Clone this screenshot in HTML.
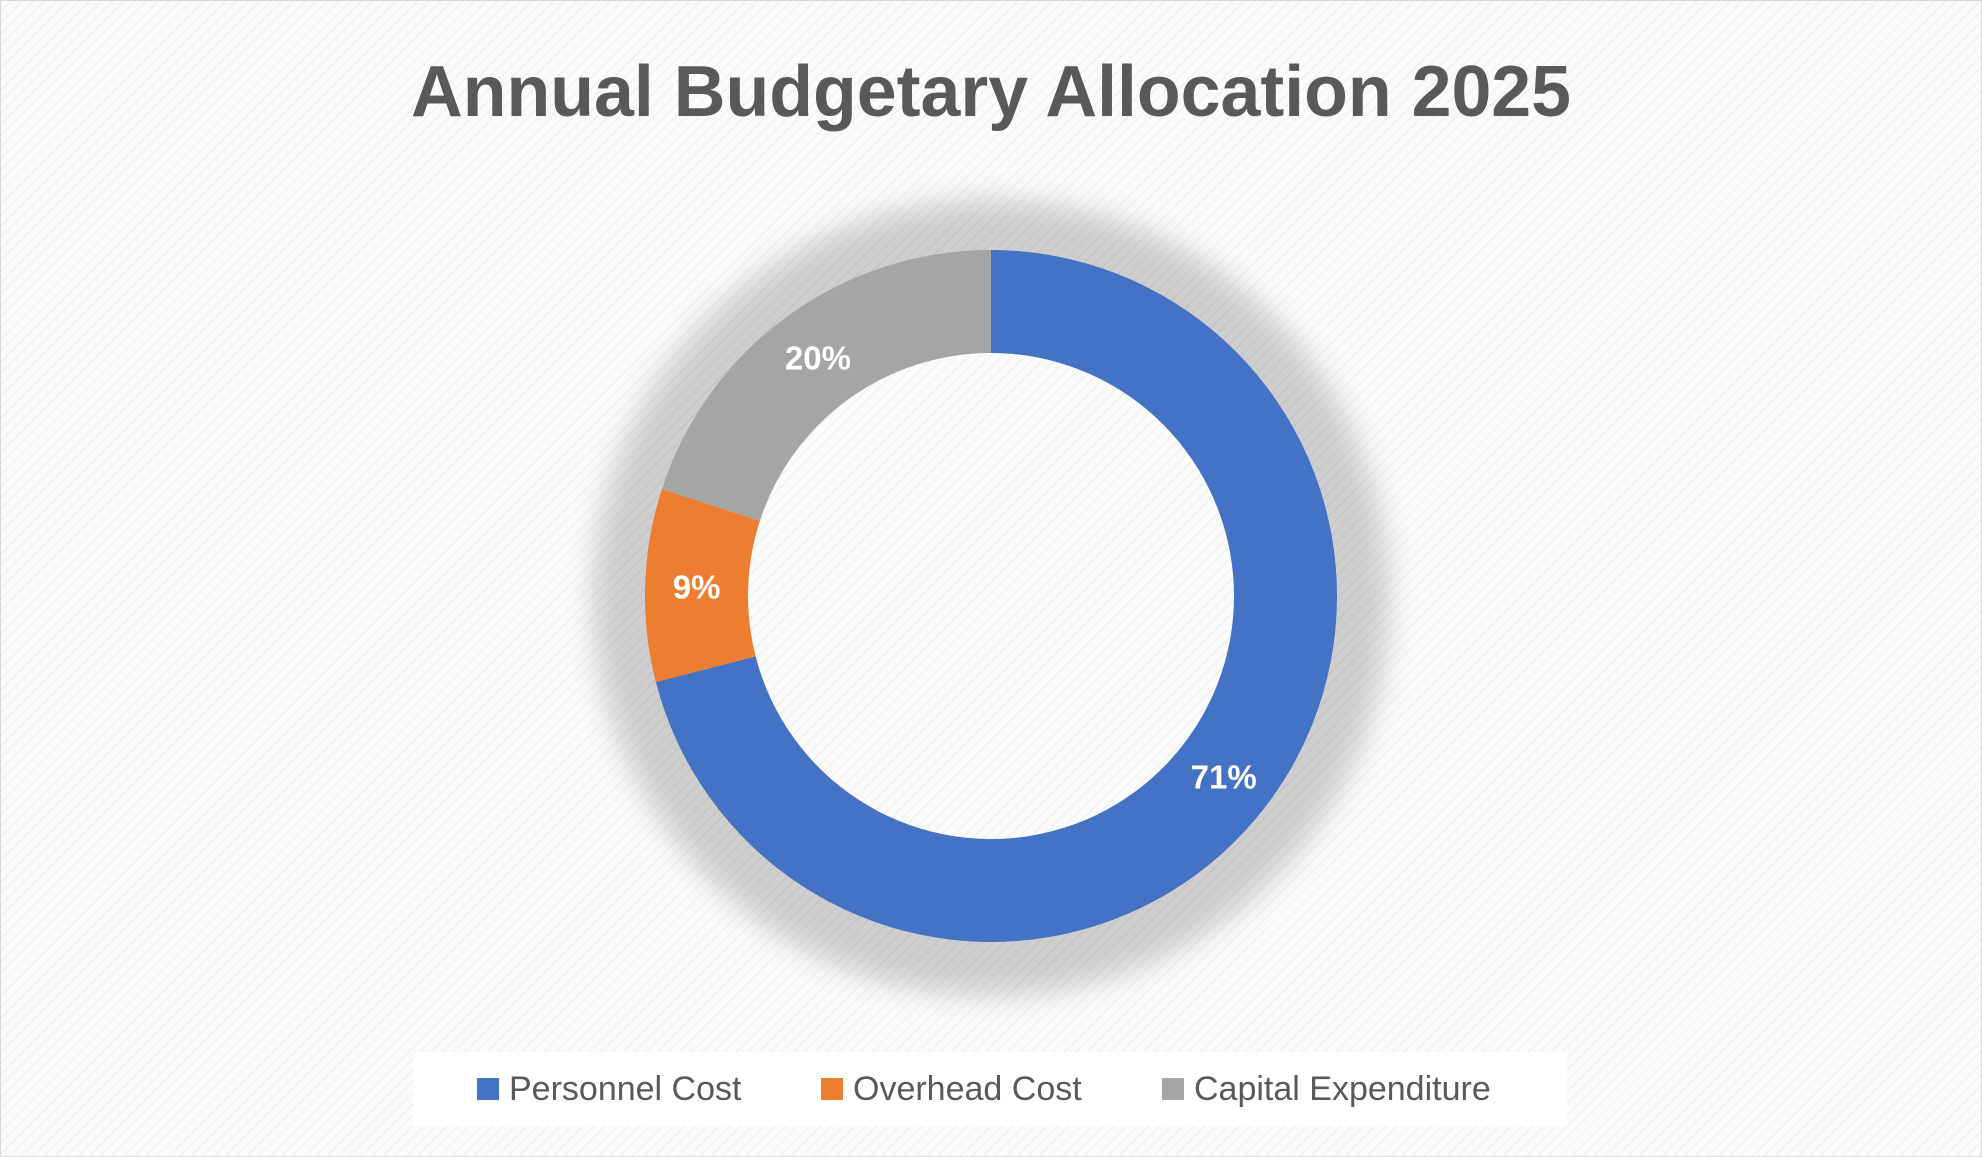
<!DOCTYPE html>
<html><head><meta charset="utf-8"><style>
html,body{margin:0;padding:0;background:#fff}
svg{display:block}
</style></head><body>
<svg width="1982" height="1157" viewBox="0 0 1982 1157" xmlns="http://www.w3.org/2000/svg">
<defs>
<pattern id="hatch" width="8" height="8" patternUnits="userSpaceOnUse" patternTransform="rotate(45)">
<rect width="8" height="8" fill="#fbfbfb"/><line x1="0" y1="0" x2="0" y2="8" stroke="#ececec" stroke-width="2"/>
</pattern>
<filter id="sh" x="-30%" y="-30%" width="160%" height="160%"><feGaussianBlur stdDeviation="14"/></filter>
</defs>
<rect x="0.5" y="0.5" width="1981" height="1156" fill="url(#hatch)" stroke="#d9d9d9"/>
<text x="991" y="116" text-anchor="middle" font-family="'Liberation Sans',sans-serif" font-weight="bold" font-size="72" fill="#595959" textLength="1160" lengthAdjust="spacingAndGlyphs">Annual Budgetary Allocation 2025</text>
<circle cx="991" cy="598" r="348" fill="none" stroke="#000" stroke-opacity="0.18" stroke-width="100" filter="url(#sh)"/>
<g id="slices"></g>
<g id="labels"></g>
<rect x="413" y="1052" width="1154" height="74" fill="#fff"/>
<g>
<rect x="477" y="1078" width="22" height="22" fill="#4472c4"/>
<text x="509" y="1100" font-family="'Liberation Sans',sans-serif" font-size="34" fill="#595959">Personnel Cost</text></g>
<g>
<rect x="821" y="1078" width="22" height="22" fill="#ed7d31"/>
<text x="853" y="1100" font-family="'Liberation Sans',sans-serif" font-size="34" fill="#595959">Overhead Cost</text></g>
<g>
<rect x="1162" y="1078" width="22" height="22" fill="#a5a5a5"/>
<text x="1194" y="1100" font-family="'Liberation Sans',sans-serif" font-size="34" fill="#595959">Capital Expenditure</text></g>
</svg>
<script>
const categories=["Personnel Cost","Overhead Cost","Capital Expenditure"];
const values=[71,9,20];
const labels=["71%","9%","20%"];
const colors=["#4472c4","#ed7d31","#a5a5a5"];
const cx=991,cy=596,ro=346,ri=243;
const ns="http://www.w3.org/2000/svg";
const total=values.reduce((a,b)=>a+b,0);
function pt(a,r){return [cx+r*Math.sin(a),cy-r*Math.cos(a)];}
let acc=0;
const sg=document.getElementById('slices'),lg=document.getElementById('labels');
values.forEach((v,i)=>{
 const a0=acc/total*2*Math.PI;acc+=v;const a1=acc/total*2*Math.PI;
 const lf=(a1-a0)>Math.PI?1:0;
 const p1=pt(a0,ro),p2=pt(a1,ro),p3=pt(a1,ri),p4=pt(a0,ri);
 const p=document.createElementNS(ns,'path');
 p.setAttribute('d',`M${p1}A${ro},${ro} 0 ${lf} 1 ${p2}L${p3}A${ri},${ri} 0 ${lf} 0 ${p4}Z`);
 p.setAttribute('fill',colors[i]);
 
 
 sg.appendChild(p);
 const m=pt((a0+a1)/2,(ro+ri)/2);
 const t=document.createElementNS(ns,'text');
 t.setAttribute('x',m[0]);t.setAttribute('y',m[1]+12);
 t.setAttribute('text-anchor','middle');
 t.setAttribute('font-family',"'Liberation Sans',sans-serif");
 t.setAttribute('font-weight','bold');t.setAttribute('font-size','33');t.setAttribute('fill','#fff');
 t.textContent=labels[i];
 
 
 lg.appendChild(t);
});
</script>
</body></html>
